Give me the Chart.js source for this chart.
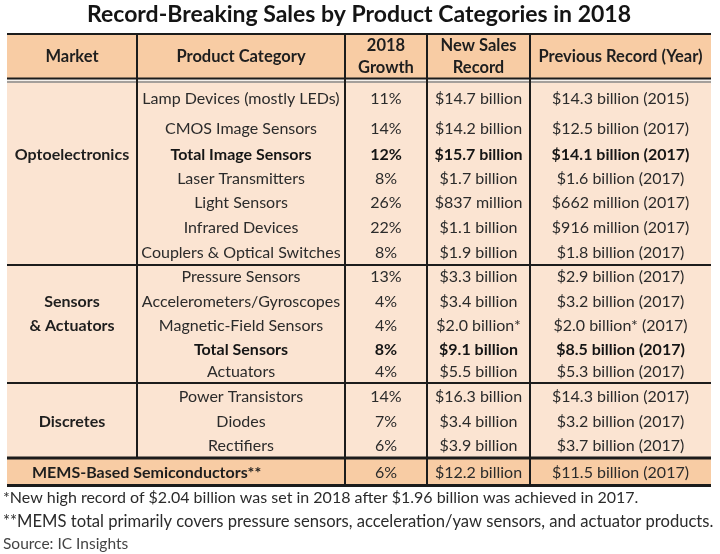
<!DOCTYPE html>
<html>
<head>
<meta charset="utf-8">
<script src="https://cdn.jsdelivr.net/npm/chart.js@4/dist/chart.umd.min.js"></script>
<style>
  html, body { margin: 0; background: #fff; }
  #wrap { width: 720px; height: 554px; }
</style>
</head>
<body>
<div id="wrap"><canvas id="myChart" width="720" height="554"></canvas></div>
<script>
// table contents
var title = "Record-Breaking Sales by Product Categories in 2018";
var headers = ["Market", "Product Category", "2018\nGrowth", "New Sales\nRecord", "Previous Record (Year)"];
var markets = ["Optoelectronics", "Sensors\n& Actuators", "Discretes", "MEMS-Based Semiconductors**"];
var marketRows = [7, 5, 3, 1];
var categories = [
    "Lamp Devices (mostly LEDs)", "CMOS Image Sensors", "Total Image Sensors", "Laser Transmitters",
    "Light Sensors", "Infrared Devices", "Couplers & Optical Switches",
    "Pressure Sensors", "Accelerometers/Gyroscopes", "Magnetic-Field Sensors", "Total Sensors", "Actuators",
    "Power Transistors", "Diodes", "Rectifiers",
    ""
];
var growth = [11, 14, 12, 8, 26, 22, 8, 13, 4, 4, 8, 4, 14, 7, 6, 6];
var newRecord = [
    "$14.7 billion", "$14.2 billion", "$15.7 billion", "$1.7 billion", "$837 million", "$1.1 billion", "$1.9 billion",
    "$3.3 billion", "$3.4 billion", "$2.0 billion*", "$9.1 billion", "$5.5 billion",
    "$16.3 billion", "$3.4 billion", "$3.9 billion",
    "$12.2 billion"
];
var prevRecord = [
    "$14.3 billion (2015)", "$12.5 billion (2017)", "$14.1 billion (2017)", "$1.6 billion (2017)",
    "$662 million (2017)", "$916 million (2017)", "$1.8 billion (2017)",
    "$2.9 billion (2017)", "$3.2 billion (2017)", "$2.0 billion* (2017)", "$8.5 billion (2017)", "$5.3 billion (2017)",
    "$14.3 billion (2017)", "$3.2 billion (2017)", "$3.7 billion (2017)",
    "$11.5 billion (2017)"
];
var boldRows = ["Total Image Sensors", "Total Sensors"];
var footnotes = [
    "*New high record of $2.04 billion was set in 2018 after $1.96 billion was achieved in 2017.",
    "**MEMS total primarily covers pressure sensors, acceleration/yaw sensors, and actuator products.",
    "Source: IC Insights"
];

// layout, in scale units
var colWidths = [130, 208, 82, 103, 181];
var headerHeight = 50;
var rowHeights = [32, 27, 25.5, 23.5, 24, 25.5, 24.5, 24.5, 24.5, 24.5, 22, 22.5, 27, 23.5, 24.5, 29];
var marketLabelRow = [2, 1, 1, 0];

var FONT = "Lato";
var headBg = "#f8cca4";
var bodyBg = "#fbe4d2";
var lineCol = "#1c1c1c";
var textCol = "#2b2b2b";

var colEdges = [0];
colWidths.forEach(function (w) { colEdges.push(colEdges[colEdges.length - 1] + w); });
var rowEdges = [headerHeight];
rowHeights.forEach(function (h) { rowEdges.push(rowEdges[rowEdges.length - 1] + h); });
var blockStart = [0];
marketRows.forEach(function (n) { blockStart.push(blockStart[blockStart.length - 1] + n); });

function drawLines(ctx, text, x, y, gap) {
    var lines = text.split("\n");
    var y0 = y - (lines.length - 1) * gap / 2;
    lines.forEach(function (l, i) { ctx.fillText(l, x, y0 + i * gap); });
}

var tablePlugin = {
    id: "table",
    beforeDatasetsDraw: function (chart) {
        var ctx = chart.ctx;
        var sx = chart.scales.x, sy = chart.scales.y;
        var X = function (v) { return sx.getPixelForValue(v); };
        var Y = function (v) { return sy.getPixelForValue(v); };
        var left = X(0), right = X(colEdges[5]);
        var nRows = rowHeights.length;
        ctx.save();

        // backgrounds
        ctx.fillStyle = headBg;
        ctx.fillRect(left, Y(0), right - left, Y(headerHeight) - Y(0));
        ctx.fillStyle = bodyBg;
        ctx.fillRect(left, Y(rowEdges[0]), right - left, Y(rowEdges[nRows - 1]) - Y(rowEdges[0]));
        ctx.fillStyle = headBg;
        ctx.fillRect(left, Y(rowEdges[nRows - 1]), right - left, Y(rowEdges[nRows]) - Y(rowEdges[nRows - 1]));

        // horizontal rules
        function hline(v, w, col) {
            ctx.strokeStyle = col;
            ctx.lineWidth = w;
            ctx.beginPath();
            ctx.moveTo(left, Y(v));
            ctx.lineTo(right, Y(v));
            ctx.stroke();
        }
        hline(1, 2, lineCol);
        ctx.fillStyle = "#f4f0ec";
        ctx.fillRect(left, Y(headerHeight - 4), right - left, Y(headerHeight) - Y(headerHeight - 4));
        hline(headerHeight - 4.5, 2, lineCol);
        hline(headerHeight - 1, 1.5, "#8a8580");
        for (var b = 1; b < marketRows.length; b++) {
            hline(rowEdges[blockStart[b]], b === 3 ? 3 : 2, lineCol);
        }
        hline(rowEdges[nRows] - 1.5, 3, lineCol);

        // vertical rules
        ctx.strokeStyle = lineCol;
        ctx.lineWidth = 2;
        for (var c = 1; c < 5; c++) {
            var bottom = c === 1 ? rowEdges[nRows - 1] : rowEdges[nRows];
            ctx.beginPath();
            ctx.moveTo(X(colEdges[c]), Y(0));
            ctx.lineTo(X(colEdges[c]), Y(bottom));
            ctx.stroke();
        }

        // header text
        ctx.textBaseline = "middle";
        ctx.textAlign = "center";
        ctx.fillStyle = "#1e1e1e";
        ctx.font = "bold 16.5px " + FONT;
        headers.forEach(function (h, i) {
            drawLines(ctx, h, X((colEdges[i] + colEdges[i + 1]) / 2), Y(headerHeight / 2 - 1.5), 22);
        });

        // rows
        for (var r = 0; r < nRows; r++) {
            var yc = Y((rowEdges[r] + rowEdges[r + 1]) / 2);
            var bold = boldRows.indexOf(categories[r]) >= 0;
            ctx.font = (bold ? "bold " : "") + "16px " + FONT;
            ctx.fillStyle = bold ? "#151515" : textCol;
            ctx.textAlign = "center";
            if (categories[r]) ctx.fillText(categories[r], X((colEdges[1] + colEdges[2]) / 2), yc);
            ctx.fillText(growth[r] + "%", X((colEdges[2] + colEdges[3]) / 2), yc);
            ctx.fillText(newRecord[r], X((colEdges[3] + colEdges[4]) / 2), yc);
            ctx.fillText(prevRecord[r], X((colEdges[4] + colEdges[5]) / 2), yc);
        }

        // market labels
        ctx.font = "bold 16px " + FONT;
        ctx.fillStyle = "#1e1e1e";
        markets.forEach(function (m, i) {
            var lines = m.split("\n");
            lines.forEach(function (l, j) {
                var r = blockStart[i] + marketLabelRow[i] + j;
                var yc = Y((rowEdges[r] + rowEdges[r + 1]) / 2);
                if (i === 3) {
                    ctx.textAlign = "left";
                    ctx.fillText(l, X(25), yc);
                } else {
                    ctx.textAlign = "center";
                    ctx.fillText(l, X((colEdges[0] + colEdges[1]) / 2), yc);
                }
            });
        });

        // footnotes
        ctx.textAlign = "left";
        ctx.fillStyle = "#2b2b2b";
        var base = chart.chartArea.bottom;
        ctx.font = "16px " + FONT;
        ctx.fillText(footnotes[0], 3, base + 11);
        ctx.font = "16.6px " + FONT;
        ctx.fillText(footnotes[1], 3, base + 35);
        ctx.font = "15.5px " + FONT;
        ctx.fillStyle = "#444";
        ctx.fillText(footnotes[2], 3, base + 57);
        ctx.restore();
    }
};

var chart = new Chart(document.getElementById("myChart"), {
    type: "scatter",
    data: { datasets: [{ data: [], pointRadius: 0 }] },
    options: {
        responsive: false,
        animation: false,
        events: [],
        layout: { padding: { left: 7, right: 9, top: 0, bottom: 67 } },
        plugins: {
            legend: { display: false },
            tooltip: { enabled: false },
            title: {
                display: true,
                text: title,
                color: "#141414",
                font: { family: FONT, size: 23, weight: "bold" },
                padding: { top: 1, bottom: 4.4 }
            }
        },
        scales: {
            x: { type: "linear", display: false, min: 0, max: colEdges[5] },
            y: { type: "linear", display: false, reverse: true, min: 0, max: rowEdges[rowEdges.length - 1] }
        }
    },
    plugins: [tablePlugin]
});
</script>
</body>
</html>
